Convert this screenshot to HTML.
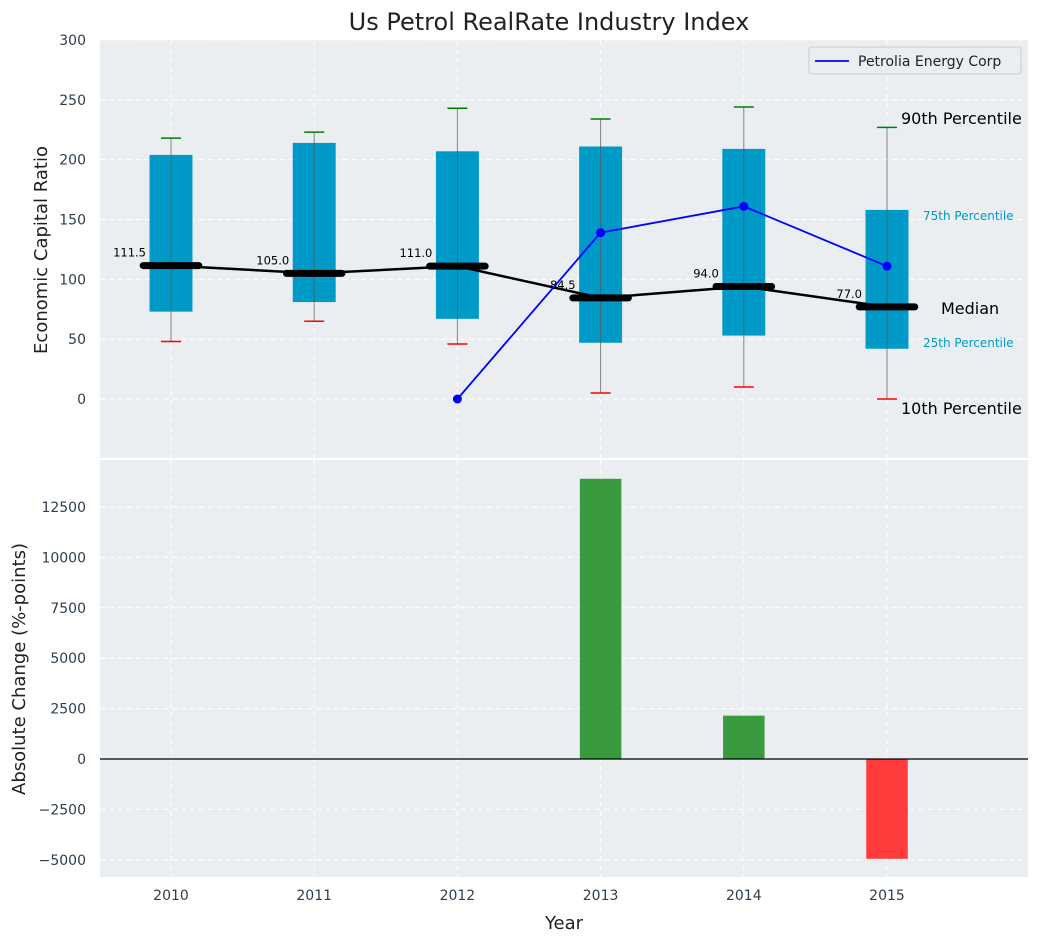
<!DOCTYPE html>
<html><head><meta charset="utf-8"><style>
body{margin:0;background:#fff;font-family:"Liberation Sans","DejaVu Sans",sans-serif}
svg text{font-family:"DejaVu Sans","Liberation Sans",sans-serif}
</style></head><body>
<svg id="c" width="1039" height="942" xmlns="http://www.w3.org/2000/svg"></svg>
<script>
const years=[2010,2011,2012,2013,2014,2015];
const q1=[73,81,67,47,53,42];
const q3=[204,214,207,211,209,158];
const med=[111.5,105,111,84.5,94,77];
const lowW=[48,65,46,5,10,0];
const highW=[218,223,243,234,244,227];
const lineYears=[2012,2013,2014,2015];
const lineVals=[0,139,161,111];
const barYears=[2013,2014,2015];
const barVals=[13900,2150,-4950];
const topTicks=[0,50,100,150,200,250,300];
const botTicks=[-5000,-2500,0,2500,5000,7500,10000,12500];

const NS="http://www.w3.org/2000/svg";
const svg=document.getElementById('c');
function el(t,a,p){const e=document.createElementNS(NS,t);for(const k in a)e.setAttribute(k,a[k]);(p||svg).appendChild(e);return e;}
const L=100,R=1028;
const x=v=>171+(v-2010)*143.2;
const yT=v=>399-v*359/300;
const yB=v=>759-v*252/12500;
const T0=40,T1=458,B0=460,B1=877;

let e;
e=el('rect',{x:L,y:T0,width:R-L,height:T1-T0,fill:'#eaeef0'});

e=el('rect',{x:L,y:B0,width:R-L,height:B1-B0,fill:'#eaeef0'});


years.forEach(v=>{
 el('line',{x1:x(v),x2:x(v),y1:T0,y2:T1,stroke:'#fff','stroke-dasharray':'5,4','stroke-width':1});
 el('line',{x1:x(v),x2:x(v),y1:B0,y2:B1,stroke:'#fff','stroke-dasharray':'5,4','stroke-width':1});
 e=el('text',{x:x(v),y:900,'font-size':14,fill:'#2d3e50','text-anchor':'middle'});e.textContent=v;
 
});
topTicks.forEach(v=>{
 el('line',{x1:L,x2:R,y1:yT(v),y2:yT(v),stroke:'#fff','stroke-dasharray':'5,4'});
 e=el('text',{x:86,y:yT(v)+5,'font-size':14,fill:'#2d3e50','text-anchor':'end'});e.textContent=v;
 
});
botTicks.forEach(v=>{
 el('line',{x1:L,x2:R,y1:yB(v),y2:yB(v),stroke:'#fff','stroke-dasharray':'5,4'});
 e=el('text',{x:86,y:yB(v)+5,'font-size':14,fill:'#2d3e50','text-anchor':'end'});e.textContent=v==0?'0':(v<0?'\u2212'+(-v):v);
 
});

const bw=0.3*143.2,mw=0.43*143.2;
years.forEach((v,i)=>{
 const cx=x(v);
 e=el('rect',{x:cx-bw/2,y:yT(q3[i]),width:bw,height:yT(q1[i])-yT(q3[i]),fill:'#009ac9'});
 
 el('line',{x1:cx,x2:cx,y1:yT(highW[i]),y2:yT(lowW[i]),stroke:'#555','stroke-width':1,opacity:0.7});
 el('line',{x1:cx-10,x2:cx+10,y1:yT(highW[i]),y2:yT(highW[i]),stroke:'green','stroke-width':1.5});
 el('line',{x1:cx-10,x2:cx+10,y1:yT(lowW[i]),y2:yT(lowW[i]),stroke:'red','stroke-width':1.5});
});
e=el('polyline',{points:years.map((v,i)=>x(v)+','+yT(med[i])).join(' '),fill:'none',stroke:'#000','stroke-width':2.5});

years.forEach((v,i)=>{
 e=el('line',{x1:x(v)-mw/2+3,x2:x(v)+mw/2-3,y1:yT(med[i]),y2:yT(med[i]),stroke:'#000','stroke-width':7,'stroke-linecap':'round'});
 
 e=el('text',{x:x(v)-25,y:yT(med[i])-9,'font-size':11.5,fill:'#000','text-anchor':'end'});e.textContent=med[i].toFixed(1);
 
});
e=el('polyline',{points:lineYears.map((v,i)=>x(v)+','+yT(lineVals[i])).join(' '),fill:'none',stroke:'blue','stroke-width':1.8});

lineYears.forEach((v,i)=>{e=el('circle',{cx:x(v),cy:yT(lineVals[i]),r:4.5,fill:'blue'});
 });

const ann=[['90th Percentile',901,124,16,'#000'],['75th Percentile',923,220,12,'#009ac9'],['Median',941,314,16,'#000'],['25th Percentile',923,347,12,'#009ac9'],['10th Percentile',901,414,16,'#000']];
ann.forEach(a=>{e=el('text',{x:a[1],y:a[2],'font-size':a[3],fill:a[4]});e.textContent=a[0];
 });

const lg=el('g',{});
el('rect',{x:809,y:47,width:212,height:27,rx:3,fill:'#eaeef0',stroke:'#ccc'},lg);
el('line',{x1:815,x2:849,y1:61,y2:61,stroke:'blue','stroke-width':1.8},lg);
e=el('text',{x:858,y:66,'font-size':14,fill:'#222'},lg);e.textContent='Petrolia Energy Corp';

const barW=0.29*143.2;
barYears.forEach((v,i)=>{
 const y0=yB(Math.max(0,barVals[i])),y1=yB(Math.min(0,barVals[i]));
 e=el('rect',{x:x(v)-barW/2,y:y0,width:barW,height:y1-y0,fill:barVals[i]>=0?'#3a9b3e':'#ff3b3b'});
 
});
el('line',{x1:L,x2:R,y1:yB(0),y2:yB(0),stroke:'#000','stroke-width':1.2});

e=el('text',{x:549,y:30,'font-size':24,fill:'#222','text-anchor':'middle'});e.textContent='Us Petrol RealRate Industry Index';

e=el('text',{x:0,y:0,'font-size':18,fill:'#222','text-anchor':'middle',transform:'translate(47,250) rotate(-90)'});e.textContent='Economic Capital Ratio';

e=el('text',{x:0,y:0,'font-size':18,fill:'#222','text-anchor':'middle',transform:'translate(25,669) rotate(-90)'});e.textContent='Absolute Change (%-points)';

e=el('text',{x:564,y:929,'font-size':18,fill:'#222','text-anchor':'middle'});e.textContent='Year';

</script>
</body></html>
